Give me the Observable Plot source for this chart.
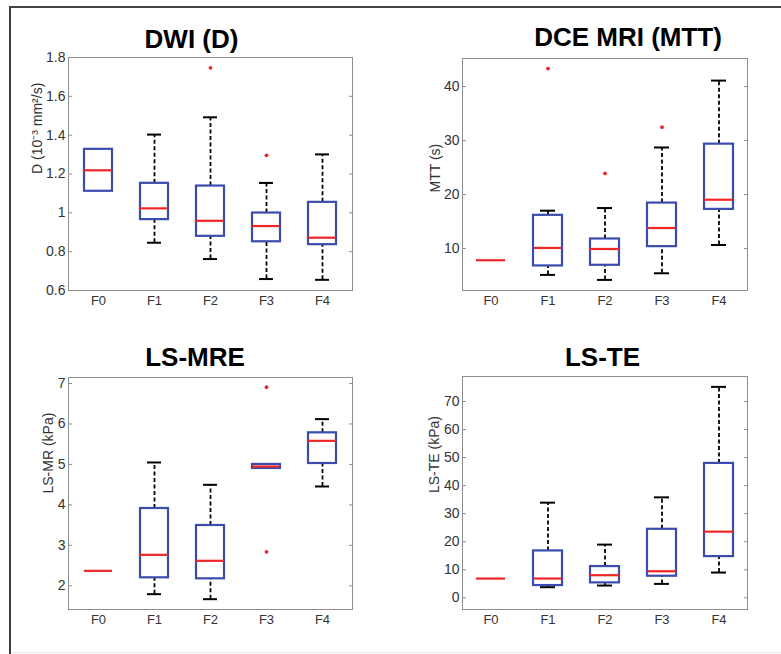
<!DOCTYPE html>
<html><head><meta charset="utf-8">
<script src="https://cdn.jsdelivr.net/npm/d3@7"></script>
<script src="https://cdn.jsdelivr.net/npm/@observablehq/plot@0.6"></script>
<style>
body{margin:0;background:#fff;}
#wrap{position:relative;width:781px;height:654px;overflow:hidden;background:#fff;font-family:"Liberation Sans",Arial,sans-serif;}
#border{position:absolute;left:9px;top:6px;width:800px;height:700px;border-top:2px solid #444;border-left:2px solid #3a3a3a;}
#bottomline{position:absolute;left:12px;top:652px;width:770px;height:1px;background:#e4e4e4;}
.panel{position:absolute;}
</style></head><body>
<div id="wrap"><div id="border"></div><div id="bottomline"></div></div>
<script>
const categories = ["F0","F1","F2","F3","F4"];

// DWI (D)
const dwiLow  = [1.111, 0.846, 0.762, 0.659, 0.655];
const dwiQ1   = [1.111, 0.965, 0.879, 0.851, 0.836];
const dwiMed  = [1.219, 1.023, 0.959, 0.932, 0.872];
const dwiQ3   = [1.327, 1.152, 1.138, 0.999, 1.054];
const dwiHigh = [1.327, 1.403, 1.492, 1.154, 1.301];
const dwiOutCat = ["F2", "F3"];
const dwiOutVal = [1.747, 1.296];
const dwiTicks = [0.6, 0.8, 1.0, 1.2, 1.4, 1.6, 1.8];

// DCE MRI (MTT)
const mttLow  = [7.84, 5.13, 4.20, 5.43, 10.67];
const mttQ1   = [7.84, 6.79, 6.91, 10.36, 17.26];
const mttMed  = [7.84, 10.12, 9.93, 13.81, 19.05];
const mttQ3   = [7.84, 16.16, 11.78, 18.43, 29.34];
const mttHigh = [7.84, 17.02, 17.51, 28.72, 41.11];
const mttOutCat = ["F1", "F2", "F3"];
const mttOutVal = [43.33, 23.92, 32.48];
const mttTicks = [10, 20, 30, 40];

// LS-MRE
const mreLow  = [2.37, 1.794, 1.670, 4.900, 4.455];
const mreQ1   = [2.37, 2.198, 2.173, 4.900, 5.023];
const mreMed  = [2.37, 2.766, 2.618, 4.949, 5.583];
const mreQ3   = [2.37, 3.911, 3.491, 5.000, 5.781];
const mreHigh = [2.37, 5.048, 4.496, 5.000, 6.119];
const mreOutCat = ["F3", "F3"];
const mreOutVal = [6.91, 2.84];
const mreTicks = [2, 3, 4, 5, 6, 7];

// LS-TE
const teLow  = [6.88, 3.80, 4.39, 4.98, 9.02];
const teQ1   = [6.88, 4.39, 5.34, 7.71, 14.71];
const teMed  = [6.88, 6.88, 8.07, 9.49, 23.60];
const teQ3   = [6.88, 16.73, 11.15, 24.44, 47.92];
const teHigh = [6.88, 33.93, 18.98, 35.82, 75.20];
const teOutCat = [];
const teOutVal = [];
const teTicks = [0, 10, 20, 30, 40, 50, 60, 70];

const BLUE = "#3b4cae", RED = "#f02626", FRAME = "#8e8e8e";
const FONT = "'Liberation Sans', Arial, sans-serif";

function panel(o) {
  const rows = categories.map((c, i) => ({cat: c, low: o.low[i], q1: o.q1[i], med: o.med[i], q3: o.q3[i], high: o.high[i]}));
  const outs = o.outCat.map((c, i) => ({cat: c, v: o.outVal[i]}));
  const lowW = d => d.low < d.q1, highW = d => d.high > d.q3;
  const p = Plot.plot({
    width: o.width, height: o.height,
    marginLeft: o.m[0], marginRight: o.m[1], marginTop: o.m[2], marginBottom: o.m[3],
    style: {fontFamily: FONT, fontSize: "13.5px", color: "#333", background: "transparent", overflow: "visible"},
    x: {type: "band", domain: categories, paddingInner: 0.5, paddingOuter: 0.25, label: null},
    y: {domain: o.domain, label: null},
    marks: [
      Plot.frame({stroke: FRAME}),
      Plot.axisY({ticks: o.ticks, tickFormat: o.fmt, tickSize: 0, tickPadding: 3, fontSize: 14, label: null}),
      Plot.axisY({ticks: o.ticks, tickFormat: () => "", tickSize: 4, dx: 4, stroke: FRAME, label: null}),
      Plot.axisY({anchor: "right", ticks: o.ticks, tickFormat: () => "", tickSize: 4, dx: -4, stroke: FRAME, label: null}),
      Plot.axisX({tickSize: 0, tickPadding: 5, fontSize: 13, label: null}),
      Plot.ruleX(rows, {filter: lowW, x: "cat", y1: "low", y2: "q1", stroke: "black", strokeWidth: 1.8, strokeDasharray: "4,2.5"}),
      Plot.ruleX(rows, {filter: highW, x: "cat", y1: "q3", y2: "high", stroke: "black", strokeWidth: 1.8, strokeDasharray: "4,2.5"}),
      Plot.tickY(rows, {filter: lowW, x: "cat", y: "low", stroke: "black", strokeWidth: 2, insetLeft: 7, insetRight: 7}),
      Plot.tickY(rows, {filter: highW, x: "cat", y: "high", stroke: "black", strokeWidth: 2, insetLeft: 7, insetRight: 7}),
      Plot.barY(rows, {x: "cat", y1: "q1", y2: "q3", fill: "none", stroke: BLUE, strokeWidth: 2.2}),
      Plot.tickY(rows, {x: "cat", y: "med", stroke: RED, strokeWidth: 2.2}),
      Plot.dot(outs, {x: "cat", y: "v", r: 1.9, fill: RED, stroke: null}),
      Plot.text([o.title], {text: d => d, frameAnchor: "top", dx: o.tdx, dy: o.tdy, lineAnchor: "bottom",
        fontSize: 26, fontWeight: "bold", fill: "black"}),
      Plot.text([o.ylabel], {text: d => d, frameAnchor: "left", dx: o.ldx, dy: o.ldy, rotate: -90,
        fontSize: 14, fill: "#333"})
    ]
  });
  p.classList.add("panel");
  p.style.left = o.left + "px";
  p.style.top = o.top + "px";
  document.getElementById("wrap").appendChild(p);
}

const fmt1 = d => String(+d.toFixed(1));
const fmt0 = d => String(d);

panel({title: "DWI (D)", ylabel: "D (10⁻³ mm²/s)", low: dwiLow, q1: dwiQ1, med: dwiMed, q3: dwiQ3, high: dwiHigh,
  outCat: dwiOutCat, outVal: dwiOutVal, domain: [0.6, 1.8], ticks: dwiTicks, fmt: fmt1,
  left: 0, top: 0, width: 390, height: 320, m: [68, 38, 57, 30], tdx: -19, tdy: -10, ldx: -31, ldy: 0});

panel({title: "DCE MRI (MTT)", ylabel: "MTT (s)", low: mttLow, q1: mttQ1, med: mttMed, q3: mttQ3, high: mttHigh,
  outCat: mttOutCat, outVal: mttOutVal, domain: [2.24, 45.2], ticks: mttTicks, fmt: fmt0,
  left: 390, top: 0, width: 391, height: 320, m: [72, 34, 58, 30], tdx: 23, tdy: -13, ldx: -27, ldy: 18});

panel({title: "LS-MRE", ylabel: "LS-MR (kPa)", low: mreLow, q1: mreQ1, med: mreMed, q3: mreQ3, high: mreHigh,
  outCat: mreOutCat, outVal: mreOutVal, domain: [1.415, 7.148], ticks: mreTicks, fmt: fmt0,
  left: 0, top: 320, width: 390, height: 334, m: [68, 38, 57, 45], tdx: -15.5, tdy: -12, ldx: -20, ldy: 0});

panel({title: "LS-TE", ylabel: "LS-TE (kPa)", low: teLow, q1: teQ1, med: teMed, q3: teQ3, high: teHigh,
  outCat: teOutCat, outVal: teOutVal, domain: [-4.15, 78.9], ticks: teTicks, fmt: fmt0,
  left: 390, top: 320, width: 391, height: 334, m: [72, 34, 56, 45], tdx: -2.5, tdy: -11, ldx: -28, ldy: 0});
</script>
</body></html>
